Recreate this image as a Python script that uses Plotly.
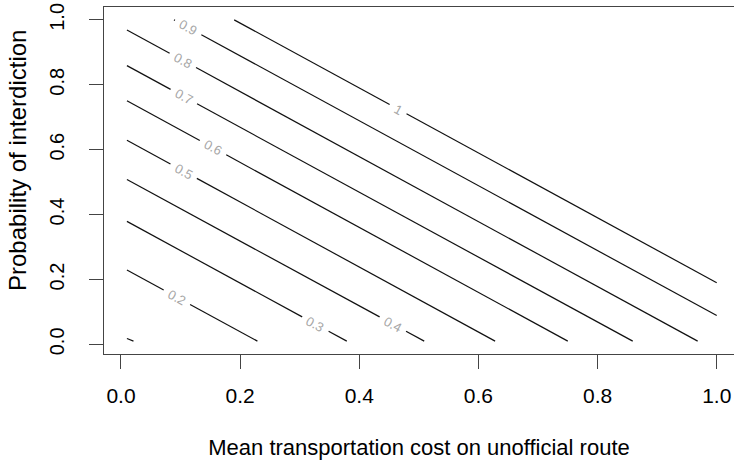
import math
import plotly.graph_objects as go

# ---- data ----
levels = [0.1, 0.2, 0.3, 0.4, 0.5, 0.6, 0.7, 0.8, 0.9, 1.0]
level_text = ["0.1", "0.2", "0.3", "0.4", "0.5", "0.6", "0.7", "0.8", "0.9", "1"]
line_x0 = [0.010, 0.010, 0.010, 0.010, 0.010, 0.010, 0.010, 0.010, 0.089, 0.190]
line_y0 = [0.018, 0.229, 0.379, 0.508, 0.629, 0.751, 0.859, 0.969, 1.000, 1.000]
line_x1 = [0.021, 0.229, 0.379, 0.509, 0.628, 0.750, 0.859, 0.968, 1.000, 1.000]
line_y1 = [0.010, 0.010, 0.010, 0.010, 0.010, 0.010, 0.010, 0.010, 0.089, 0.190]
label_x = [None, 0.0935, 0.326, 0.456, 0.105, 0.152, 0.105, 0.1035, 0.113, 0.4655]
label_y = [None, 0.144, 0.0615, 0.0615, 0.533, 0.598, 0.762, 0.874, 0.977, 0.7262]

tick_vals = [0.0, 0.2, 0.4, 0.6, 0.8, 1.0]
tick_text = ["0.0", "0.2", "0.4", "0.6", "0.8", "1.0"]

x_title = "Mean transportation cost on unofficial route"
y_title = "Probability of interdiction"

# ---- layout geometry ----
W, H = 734, 460
m_l, m_r, m_t, m_b = 104, 0, 7, 106
x_range = [-0.0285, 1.029]
y_range = [-0.0296, 1.0396]
pw, ph = W - m_l - m_r, H - m_t - m_b
sx = pw / (x_range[1] - x_range[0])
sy = ph / (y_range[1] - y_range[0])

FONT = "Liberation Sans, Arial, sans-serif"
LABEL_SIZE = 13
def text_width(s):
    return sum(0.278 if ch == "." else 0.556 for ch in s) * LABEL_SIZE

xs, ys = [], []
annotations = []
for i, lev in enumerate(levels):
    x0, y0, x1, y1 = line_x0[i], line_y0[i], line_x1[i], line_y1[i]
    dxp, dyp = (x1 - x0) * sx, (y1 - y0) * sy
    Lp = math.hypot(dxp, dyp)
    if label_x[i] is None:
        xs += [x0, x1, None]
        ys += [y0, y1, None]
        continue
    lxp, lyp = (label_x[i] - x0) * sx, (label_y[i] - y0) * sy
    t = (lxp * dxp + lyp * dyp) / (Lp * Lp)
    g = (text_width(level_text[i]) + 12) / 2 / Lp
    ta, tb = t - g, t + g
    if ta > 0:
        xs += [x0, x0 + ta * (x1 - x0), None]
        ys += [y0, y0 + ta * (y1 - y0), None]
    if tb < 1:
        xs += [x0 + tb * (x1 - x0), x1, None]
        ys += [y0 + tb * (y1 - y0), y1, None]
    cx, cy = x0 + t * (x1 - x0), y0 + t * (y1 - y0)
    ang = math.degrees(math.atan2(-dyp, dxp))
    annotations.append(dict(
        x=cx, y=cy, xref="x", yref="y", text=level_text[i], showarrow=False,
        textangle=ang, font=dict(family=FONT, size=LABEL_SIZE, color="#a6a6a6"),
        xanchor="center", yanchor="middle"))

# y-axis title (placed as in the reference, slightly above plot centre)
annotations.append(dict(
    x=(17 - m_l) / pw, y=(H - m_b - 161) / ph, xref="paper", yref="paper",
    text=y_title, showarrow=False, textangle=-90,
    font=dict(family=FONT, size=24, color="#000"),
    xanchor="center", yanchor="middle"))

fig = go.Figure()
fig.add_trace(go.Scatter(x=xs, y=ys, mode="lines",
                         line=dict(color="#111111", width=1.2),
                         hoverinfo="skip", showlegend=False))

fig.update_layout(
    width=W, height=H,
    margin=dict(l=m_l, r=m_r, t=m_t, b=m_b, autoexpand=False),
    paper_bgcolor="white", plot_bgcolor="white",
    showlegend=False,
    annotations=annotations,
    xaxis=dict(range=x_range, tickvals=tick_vals, ticktext=tick_text,
               automargin=False,
               showgrid=False, zeroline=False, showline=True, mirror=True,
               linecolor="#444444", linewidth=1.3,
               ticks="outside", ticklen=14, tickcolor="#444444", tickwidth=1.3,
               tickfont=dict(family=FONT, size=21, color="#000"), ticklabelstandoff=9,
               title=dict(text=x_title, font=dict(family=FONT, size=22, color="#000"), standoff=38)),
    yaxis=dict(range=y_range, tickvals=tick_vals, ticktext=tick_text,
               automargin=False,
               showgrid=False, zeroline=False, showline=True, mirror=False,
               linecolor="#444444", linewidth=1.3,
               ticks="outside", ticklen=14, tickcolor="#444444", tickwidth=1.3,
               tickangle=-90, tickfont=dict(family=FONT, size=20, color="#000"), ticklabelstandoff=17),
)

fig.write_html("out.html", config={"displayModeBar": False},
               post_script="document.body.style.margin='0';document.body.style.padding='0';")
